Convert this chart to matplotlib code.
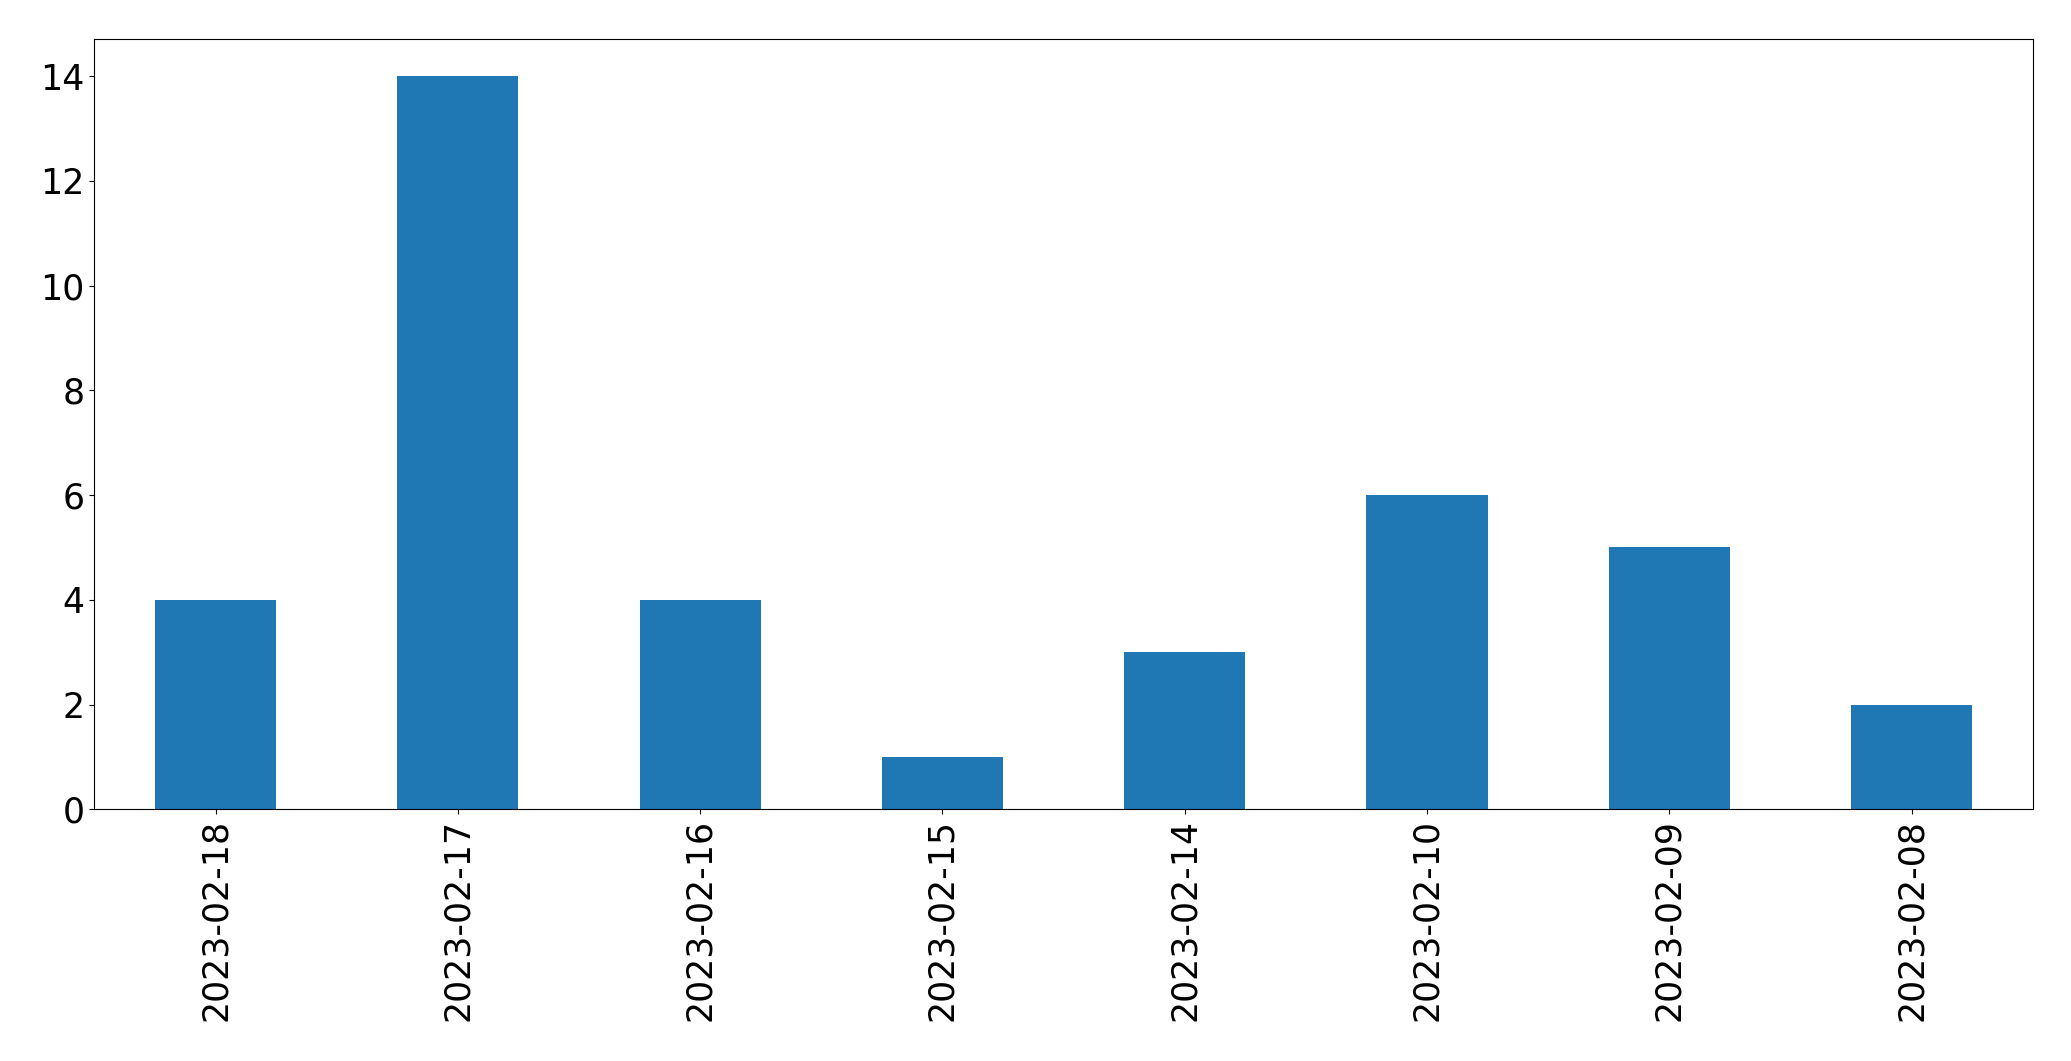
import matplotlib
matplotlib.use("Agg")
import matplotlib.pyplot as plt

# daily counts, in the order shown
dates = ["2023-02-18", "2023-02-17", "2023-02-16", "2023-02-15",
         "2023-02-14", "2023-02-10", "2023-02-09", "2023-02-08"]
counts = [4, 14, 4, 1, 3, 6, 5, 2]

fig, ax = plt.subplots(figsize=(20.71, 10.61), dpi=100)
positions = list(range(len(dates)))
ax.bar(positions, counts, width=0.5, color="#1f77b4")
ax.set_xlim(-0.5, len(dates) - 0.5)
ax.set_xticks(positions)
ax.set_xticklabels(dates, rotation=90)
ax.tick_params(axis="both", labelsize=25)

fig.subplots_adjust(left=0.0456, right=0.9815, top=0.9628, bottom=0.2372)
plt.savefig("out.png", dpi=100)
plt.close()
